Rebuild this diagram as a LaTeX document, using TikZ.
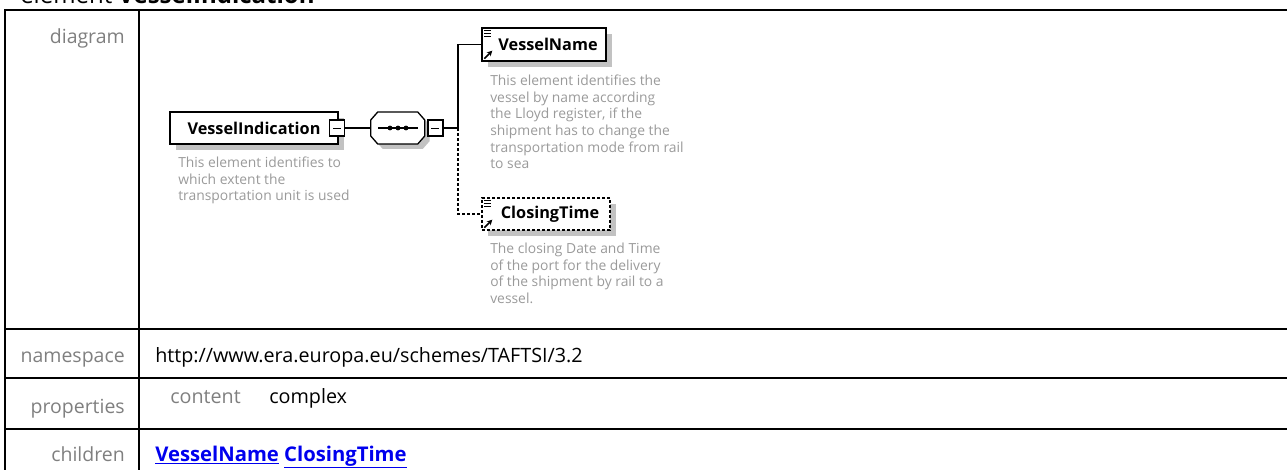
\documentclass[tikz,border=0pt]{standalone}
\usepackage{fontspec}
\setmainfont{Open Sans}
\usetikzlibrary{shadows,positioning,calc,arrows.meta}
\usepackage{xcolor}

\definecolor{lblgray}{HTML}{7F7F7F}
\definecolor{docgray}{HTML}{9A9A9A}
\definecolor{shadegray}{HTML}{C2C2C2}
\definecolor{linkblue}{HTML}{0000EE}

\newdimen\pxu \pxu=0.75pt

\tikzset{
  tblline/.style={line width=2\pxu, black},
  elem/.style={draw, line width=1.3\pxu, fill=white, inner sep=0pt,
    minimum height=32\pxu, font=\fontsize{12.2}{14}\selectfont\bfseries,
    drop shadow={shadow xshift=6\pxu, shadow yshift=-6\pxu, fill=shadegray, opacity=1}},
  optelem/.style={elem, dash pattern=on 3\pxu off 2\pxu},
  doc/.style={anchor=north west, align=left, inner sep=0pt, text=docgray,
    font=\fontsize{10.4}{12.4}\selectfont},
  rowlabel/.style={anchor=base east, inner sep=0pt, text=lblgray,
    font=\fontsize{14.6}{17}\selectfont},
  cell/.style={anchor=base west, inner sep=0pt, font=\fontsize{14.8}{17}\selectfont},
  minusbox/.style={draw, line width=1.3\pxu, fill=white, inner sep=0pt,
    minimum width=15\pxu, minimum height=16\pxu},
  conn/.style={line width=1.3\pxu},
  optconn/.style={conn, dash pattern=on 3\pxu off 2\pxu}
}

\begin{document}
\begin{tikzpicture}[x=0.75pt, y=-0.75pt]
  \useasboundingbox (0,0) rectangle (1287,470);
  \clip (0,0) rectangle (1287,470);

  % heading, cut by the top edge
  \node[anchor=base west, inner sep=0pt, font=\fontsize{18}{20}\selectfont]
    (title) at (20,4) {element \textbf{VesselIndication}};

  % table grid
  \draw[tblline] (5,480) -- (5,10.5) -- (1300,10.5);
  \draw[tblline] (139,10.5) -- (139,480);
  \foreach \yy in {329,378,429}
    \draw[tblline] (5,\yy) -- (1300,\yy);

  % row labels
  \node[rowlabel] (lbldiag) at (125,44) {diagram};
  \node[rowlabel] (lblns) at (125,362) {namespace};
  \node[rowlabel] (lblprop) at (125,413) {properties};
  \node[rowlabel] (lblchild) at (125,461) {children};

  % cells
  \node[cell] (nsval) at (155,362) {http://www.era.europa.eu/schemes/TAFTSI/3.2};
  \node[cell, text=lblgray] (propkey) at (170,403) {content};
  \node[cell] (propval) at (269,403) {complex};
  \node[cell, text=linkblue, font=\fontsize{15.2}{17}\selectfont\bfseries]
    (childval) at (155,461) {\underline{VesselName} \underline{ClosingTime}};

  % root element
  \node[elem, minimum width=168\pxu] (vind) at (254,128) {VesselIndication};
  \node[minusbox] (vindminus) at (337,128) {};
  \draw (vindminus.center) +(-4,0) -- +(4,0);
  \node[doc] (vinddoc) at (178,157) {This element identifies to\\which extent the\\transportation unit is used};

  % sequence compositor
  \node[inner sep=0pt, minimum width=54\pxu, minimum height=32\pxu] (seq) at (398,128) {};
  \fill[shadegray] ($(seq.west)+(5,5)$) -- ++(0,-8) -- ++(7,-8) -- ++(40,0) -- ++(7,8)
    -- ++(0,16) -- ++(-7,8) -- ++(-40,0) -- ++(-7,-8) -- cycle;
  \draw[conn, fill=white] (seq.west) -- ++(0,-8) -- ++(7,-8) -- ++(40,0) -- ++(7,8)
    -- ++(0,16) -- ++(-7,8) -- ++(-40,0) -- ++(-7,-8) -- cycle;
  \draw[conn] (seq.center) +(-20,0) -- +(20,0);
  \foreach \dx in {-8,0,8}
    \fill ($(seq.center)+(\dx,0)$) circle (2.4);
  \node[minusbox, right=2\pxu of seq] (seqminus) {};
  \draw (seqminus.center) +(-4,0) -- +(4,0);

  \draw[conn] (vindminus) -- (seq);
  \coordinate (fork) at (458,128);
  \draw[conn] (seqminus) -- (fork);

  % child elements
  \node[elem, minimum width=124\pxu, minimum height=33\pxu] (vname) at (544,44.5) {\hspace{8\pxu}VesselName};
  \node[optelem, minimum width=128\pxu] (ctime) at (546,214) {\hspace{8\pxu}ClosingTime};
  \foreach \el in {vname,ctime} {
    \foreach \dy in {3,6,9}
      \draw[line width=1.2\pxu] ($(\el.north west)+(3,\dy)$) -- +(7,0);
    \draw[line width=1.6\pxu, -{Stealth[length=4pt,width=4pt]}]
      ($(\el.south west)+(3,-3)$) -- +(8,-8);
  }
  \draw[conn] (fork) |- (vname.west);
  \draw[optconn] (fork) |- (ctime.west);

  \node[doc] (vnamedoc) at (490,75) {This element identifies the\\vessel by name according\\the Lloyd register, if the\\shipment has to change the\\transportation mode from rail\\to sea};
  \node[doc] (ctimedoc) at (490,243) {The closing Date and Time\\of the port for the delivery\\of the shipment by rail to a\\vessel.};
\end{tikzpicture}
\end{document}
